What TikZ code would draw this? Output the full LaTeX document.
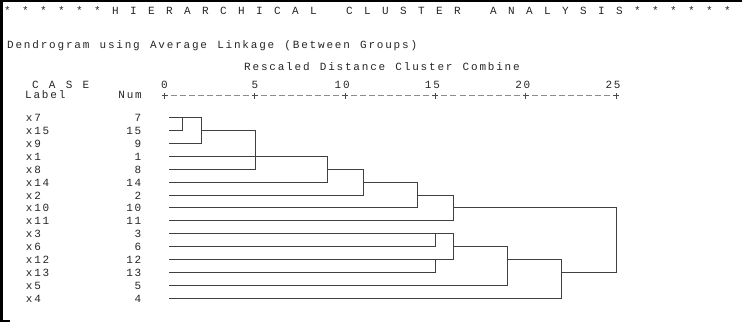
\documentclass[tikz,border=0pt]{standalone}
\usepackage{fontspec}
\newfontfamily\spssA[LetterSpace=16.4]{Liberation Mono}
\newfontfamily\spssT[LetterSpace=21.8]{Liberation Mono}
\newcommand\monosp[1]{\spaceskip=#1\relax\frenchspacing}
\begin{document}
\begin{tikzpicture}[x=1pt,y=-1pt,
  txt/.style={inner sep=0pt, text height=7pt, text depth=0pt, text=black!85,
    font=\spssA\fontsize{11}{11}\selectfont, execute at begin node={\monosp{10.2pt}}},
  ttl/.style={inner sep=0pt, text height=7pt, text depth=0pt, text=black!85,
    font=\spssT\fontsize{11}{11}\selectfont, execute at begin node={\monosp{11.4pt}}},
  dline/.style={draw=black!75, line width=1pt},
  axisdash/.style={draw=black!45, line width=1pt, dash pattern=on 6pt off 3.03pt},
  tickmark/.style={draw=black!70, line width=0.9pt},
  edgeline/.style={draw=black, line width=2.5pt}]
\useasboundingbox (0,0) rectangle (742,322);
\fill[white] (0,0) rectangle (742,322);
% frame
\coordinate (FTL) at (1.25,0);
\coordinate (FBL) at (1.25,322);
\coordinate (FTR) at (742,1);
\coordinate (FTL2) at (0,1);
\coordinate (FB1) at (0,320.8);
\coordinate (FB2) at (10,320.8);
\draw[edgeline] (FTL) -- (FBL);
\draw[draw=black, line width=2pt] (FTL2) -- (FTR);
\draw[draw=black, line width=1.5pt] (FB1) -- (FB2);
% titles
\node[ttl, anchor=west] (title) at (4,10.7) {* * * * * * H I E R A R C H I C A L\hspace*{29.4pt}C L U S T E R\hspace*{29.4pt}A N A L Y S I S * * * * * *};
\node[txt, anchor=west] (sub) at (7,44.5) {Dendrogram using Average Linkage (Between Groups)};
\node[txt] (resc) at (382,66.7) {Rescaled Distance Cluster Combine};
\node[txt, anchor=west] (case) at (32,85) {C A S E};
\node[txt, anchor=west] (labh) at (25,95) {Label};
\node[txt, anchor=east] (numh) at (142,95) {Num};
% axis
\foreach \i/\v/\dx in {0/0/0, 1/5/0, 2/10/-3, 3/15/-3, 4/20/-3, 5/25/-3} {
  \coordinate (T\i) at ({164.5+90.32*\i},95.5);
  \node[txt] (AL\i) at ({164.5+90.32*\i+\dx},85.3) {\v};
  \draw[tickmark] ([xshift=-3pt]T\i) -- ([xshift=3pt]T\i);
  \draw[tickmark] ([yshift=-3pt]T\i) -- ([yshift=3pt]T\i);
}
\foreach \i/\j in {0/1,1/2,2/3,3/4,4/5} {
  \draw[axisdash] ([xshift=6pt]T\i) -- ([xshift=-6pt]T\j);
}
% rows
\foreach \lab/\n/\y in {x7/7/117.5, x15/15/130.5, x9/9/143.5, x1/1/156.5, x8/8/169.5,
  x14/14/182.5, x2/2/195.5, x10/10/207.5, x11/11/220.5, x3/3/233.5, x6/6/246.5,
  x12/12/259.5, x13/13/272.5, x5/5/285.5, x4/4/298.5} {
  \node[txt, anchor=west] (lab\n) at (25.7,\y) {\lab};
  \node[txt, anchor=east] (num\n) at (141.5,\y) {\n};
  \coordinate (L\n) at (169,\y);
}
% merge points (x = distance, y = row carrying the joined cluster)
\coordinate (M1) at (182.5,117.5);
\coordinate (M2) at (201.5,130.5);
\coordinate (M3) at (255.5,156.5);
\coordinate (M4) at (327.5,169.5);
\coordinate (M5) at (363.5,182.5);
\coordinate (M6) at (417.5,195.5);
\coordinate (M7) at (453.5,207.5);
\coordinate (M8) at (435.5,233.5);
\coordinate (M9) at (435.5,259.5);
\coordinate (M10) at (453.5,246.5);
\coordinate (M11) at (507.5,259.5);
\coordinate (M12) at (561.5,272.5);
\coordinate (M13) at (616.5,207.5);
% dendrogram
\draw[dline] (L7) -- (L7 -| M1) -- (L15 -| M1) -- (L15);
\draw[dline] (M1) -- (M1 -| M2) -- (L9 -| M2) -- (L9);
\draw[dline] (M2) -- (M2 -| M3) -- (L8 -| M3) -- (L8);
\draw[dline] (L1) -- (M3);
\draw[dline] (M3) -- (M3 -| M4) -- (L14 -| M4) -- (L14);
\draw[dline] (M4) -- (M4 -| M5) -- (L2 -| M5) -- (L2);
\draw[dline] (M5) -- (M5 -| M6) -- (L10 -| M6) -- (L10);
\draw[dline] (M6) -- (M6 -| M7) -- (L11 -| M7) -- (L11);
\draw[dline] (L3) -- (L3 -| M8) -- (L6 -| M8) -- (L6);
\draw[dline] (L12) -- (L12 -| M9) -- (L13 -| M9) -- (L13);
\draw[dline] (M8) -- (M8 -| M10) -- (M9 -| M10) -- (M9);
\draw[dline] (M10) -- (M10 -| M11) -- (L5 -| M11) -- (L5);
\draw[dline] (M11) -- (M11 -| M12) -- (L4 -| M12) -- (L4);
\draw[dline] (M7) -- (M7 -| M13) -- (M12 -| M13) -- (M12);
\end{tikzpicture}
\end{document}
